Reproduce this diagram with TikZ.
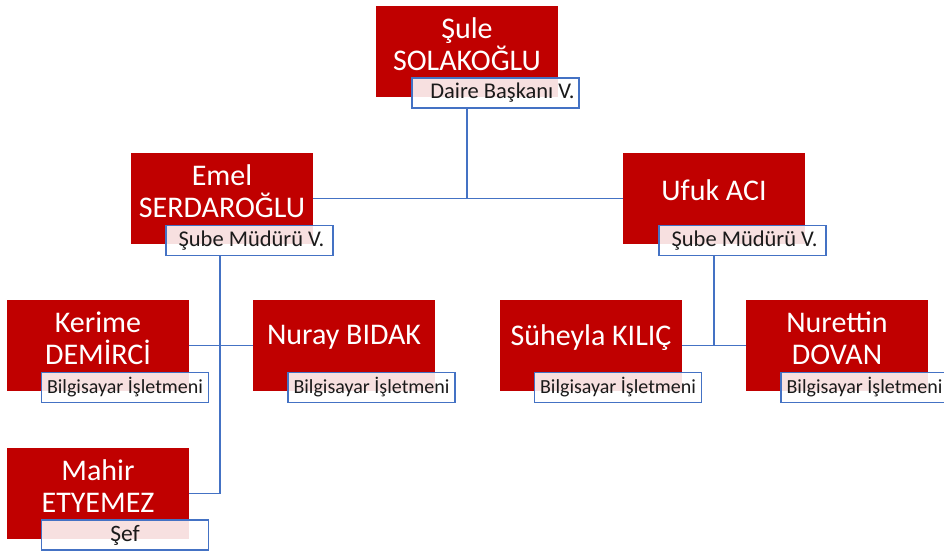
\documentclass[tikz,border=0pt]{standalone}
\usepackage{fontspec}
\setmainfont{Carlito}
\definecolor{boxred}{HTML}{C00000}
\definecolor{linkblue}{HTML}{4472C4}
\definecolor{labtext}{HTML}{1A1A1A}
\begin{document}
\begin{tikzpicture}[x=1pt,y=-1pt,
  namebox/.style={draw=none,fill=boxred,minimum width=182pt,minimum height=91pt,inner sep=0pt},
  nametext/.style={text=white,align=center,inner sep=0pt,font=\fontsize{30}{32}\selectfont},
  rolebox/.style={draw=linkblue,line width=1.4pt,fill=white,fill opacity=0.88,text opacity=1,
    text=labtext,minimum width=167pt,minimum height=30pt,inner sep=0pt,font=\fontsize{20}{22}\selectfont},
  bigrole/.style={font=\fontsize{22.5}{24}\selectfont},
  link/.style={draw=linkblue,line width=1.5pt}]
\useasboundingbox (0,0) rectangle (944,551);
\clip (0,0) rectangle (944,551);
% boxes
\node[namebox] (top) at (467,51.5) {};
\node[namebox] (emel) at (222,198.5) {};
\node[namebox] (ufuk) at (714,198.5) {};
\node[namebox] (kerime) at (98,345.5) {};
\node[namebox] (nuray) at (344,345.5) {};
\node[namebox] (mahir) at (98,493.5) {};
\node[namebox] (suheyla) at (591,345.5) {};
\node[namebox] (nurettin) at (837,345.5) {};
% names
\node[nametext] (topt) at ([yshift=7pt]top.center) {Şule\\SOLAKOĞLU};
\node[nametext] (emelt) at ([yshift=7pt]emel.center) {Emel\\SERDAROĞLU};
\node[nametext] (ufukt) at ([yshift=8pt]ufuk.center) {Ufuk ACI};
\node[nametext] (kerimet) at ([yshift=7pt]kerime.center) {Kerime\\DEMİRCİ};
\node[nametext] (nurayt) at ([yshift=8pt]nuray.center) {Nuray BIDAK};
\node[nametext] (mahirt) at ([yshift=7pt]mahir.center) {Mahir\\ETYEMEZ};
\node[nametext] (suheylat) at ([yshift=8pt]suheyla.center) {Süheyla KILIÇ};
\node[nametext] (nurettint) at ([yshift=7pt]nurettin.center) {Nurettin\\DOVAN};
% role labels
\node[rolebox,bigrole] (topl) at (495.5,93) {\hspace*{14pt}Daire Başkanı V.};
\node[rolebox,bigrole] (emell) at (249.5,240.5) {\hspace*{4pt}Şube Müdürü V.};
\node[rolebox,bigrole] (ufukl) at (742.5,240.5) {\hspace*{4pt}Şube Müdürü V.};
\node[rolebox] (kerimel) at (125,387.5) {Bilgisayar İşletmeni};
\node[rolebox] (nurayl) at (371.5,387.5) {Bilgisayar İşletmeni};
\node[rolebox,font=\fontsize{23.5}{25}\selectfont] (mahirl) at (125,535) {Şef};
\node[rolebox] (suheylal) at (618,387.5) {Bilgisayar İşletmeni};
\node[rolebox] (nurettinl) at (864.5,387.5) {Bilgisayar İşletmeni};
% connectors
\draw[link] (top.south |- topl.south) -- (top.south |- emel.east);
\draw[link] (emel.east) -- (ufuk.west);
\draw[link] ([xshift=-2pt]emel.south |- emell.south) -- ([xshift=-2pt]emel.south |- mahir.east) -- (mahir.east);
\draw[link] (kerime.east) -- (nuray.west);
\draw[link] (ufuk.south |- ufukl.south) -- (ufuk.south |- suheyla.east);
\draw[link] (suheyla.east) -- (nurettin.west);
\end{tikzpicture}
\end{document}
